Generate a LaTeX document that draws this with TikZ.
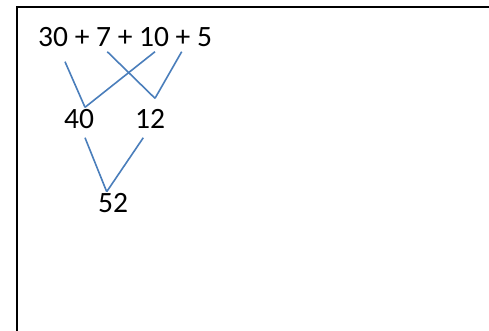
\documentclass[tikz,border=0pt]{standalone}
\usepackage{fontspec}
\setmainfont{Carlito}
\usepackage{tikz}
\usetikzlibrary{positioning, calc}

\begin{document}
\begin{tikzpicture}[
    x=1pt, y=-1pt,
    num/.style={inner sep=0pt, anchor=base west,
      font=\fontsize{29.5}{34}\selectfont},
    link/.style={draw=linkblue, line width=1.6pt},
    frame/.style={draw=black, line width=1.8pt}
]
\definecolor{linkblue}{HTML}{4A7EBB}
\useasboundingbox (0,0) rectangle (489,330);
\fill[white] (0,0) rectangle (489,330);
\draw[frame] (17,332) -- (17,7) -- (491,7);

% numbers
\node[num] (sum) at (38,46.5) {30 + 7 + 10 + 5};
\node[num] (n40) at (64,128.5) {40};
\node[num] (n12) at (135,128.5) {12};
\node[num] (n52) at (98,212) {52};

% line ends
\coordinate (s30) at (65,61.7);
\coordinate (s7)  at (107.3,51.7);
\coordinate (s10) at (155,51.7);
\coordinate (s5)  at (181.7,51.7);
\coordinate (t40) at (85,107.3);
\coordinate (b40) at (85,137.7);
\coordinate (t12) at (155,98.3);
\coordinate (b12) at (143.3,137.7);
\coordinate (t52) at (106.7,191.7);

\draw[link] (s30) -- (t40);
\draw[link] (s10) -- (t40);
\draw[link] (s7) -- (t12);
\draw[link] (s5) -- (t12);
\draw[link] (b40) -- (t52);
\draw[link] (b12) -- (t52);
\end{tikzpicture}
\end{document}
